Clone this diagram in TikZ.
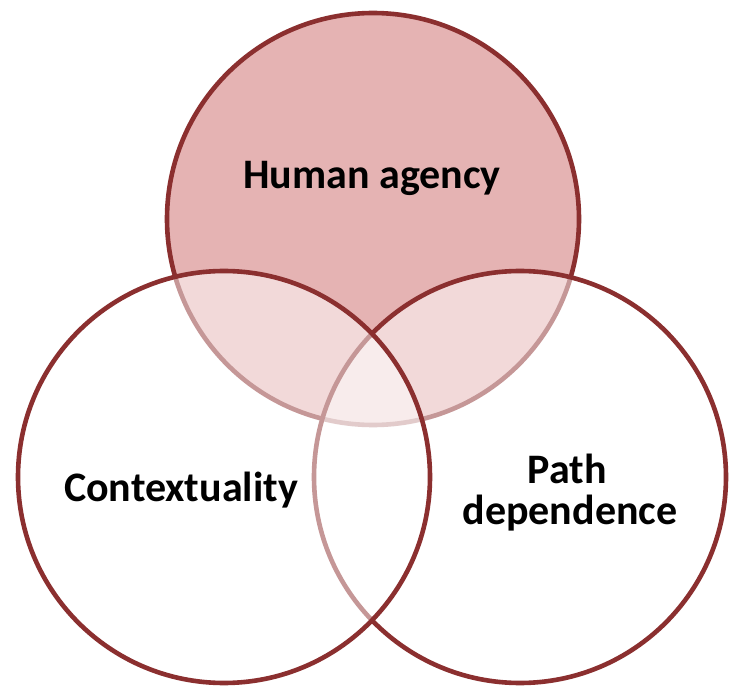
\documentclass[tikz,border=0pt]{standalone}
\usepackage{fontspec}
\setmainfont{Carlito}
\definecolor{vborder}{RGB}{139,47,47}
\definecolor{vpink}{RGB}{229,179,179}
\tikzset{
  venn/.style={circle, draw=vborder, line width=4.6pt, minimum size=412pt, inner sep=0pt},
  vtop/.style={venn, fill=vpink},
  vlow/.style={venn, fill=white, fill opacity=0.5},
  vlabel/.style={font=\fontsize{42}{41}\selectfont\bfseries, text=black, align=center, inner sep=0pt}
}
\begin{document}
\begin{tikzpicture}[x=1pt,y=-1pt]
\useasboundingbox (0,0) rectangle (729,687);
\node[vtop] (top) at (373,219) {};
\node[vlow] (right) at (520,477) {};
\node[vlow] (left) at (224,477) {};
\node[vlabel, anchor=base] (ha) at (372,189) {Human agency};
\node[vlabel, anchor=base] (ct) at (181,501) {Contextuality};
\node[vlabel, anchor=base] (pd1) at (567,483) {Path};
\node[vlabel, anchor=base] (pd2) at (570,524) {dependence};
\end{tikzpicture}
\end{document}
